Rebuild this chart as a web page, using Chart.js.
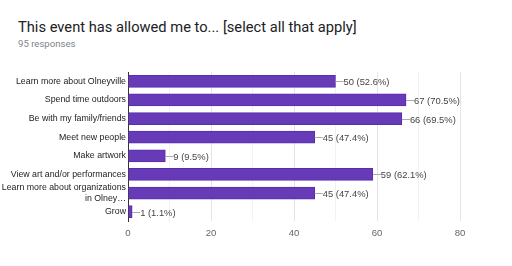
<!DOCTYPE html>
<html>
<head>
<meta charset="utf-8">
<script src="https://cdn.jsdelivr.net/npm/chart.js@4"></script>
<style>
  html, body { margin: 0; padding: 0; background: #fff; }
  body { width: 512px; height: 266px; position: relative; overflow: hidden; font-family: Roboto, Arial, sans-serif; }
  #title { position: absolute; left: 18px; top: 18px; font-size: 14.7px; color: #202124; white-space: nowrap; }
  #sub { position: absolute; left: 18px; top: 38px; font-size: 9.6px; color: #80868b; }
  #wrap { position: absolute; left: 0; top: 0; width: 512px; height: 266px; }
</style>
</head>
<body>
<div id="title">This event has allowed me to... [select all that apply]</div>
<div id="sub">95 responses</div>
<div id="wrap"><canvas id="chart"></canvas></div>
<script>
const categories = [
    'Learn more about Olneyville',
    'Spend time outdoors',
    'Be with my family/friends',
    'Meet new people',
    'Make artwork',
    'View art and/or performances',
    ['Learn more about organizations', 'in Olney\u2026'],
    'Grow'
];
const counts = [50, 67, 66, 45, 9, 59, 45, 1];
const percents = ['52.6%', '70.5%', '69.5%', '47.4%', '9.5%', '62.1%', '47.4%', '1.1%'];
const xTicks = [0, 20, 40, 60, 80];

const labelFont = 'Arial, "Liberation Sans", sans-serif';

// Leader lines + value labels at the end of each bar
const valueLabels = {
    id: 'valueLabels',
    afterDatasetsDraw(chart) {
        const ctx = chart.ctx;
        const meta = chart.getDatasetMeta(0);
        ctx.save();
        ctx.font = '9.4px ' + labelFont;
        ctx.textBaseline = 'middle';
        meta.data.forEach((bar, i) => {
            const x = bar.x;
            const y = Math.round(bar.y);
            ctx.strokeStyle = '#aaa';
            ctx.lineWidth = 1;
            ctx.beginPath();
            ctx.moveTo(x, y + 0.5);
            ctx.lineTo(x + 8, y + 0.5);
            ctx.stroke();
            ctx.fillStyle = '#444';
            ctx.fillText(counts[i] + ' (' + percents[i] + ')', x + 8, y + 1);
        });
        ctx.restore();
    }
};

const ctx = document.getElementById('chart').getContext('2d');
const chart = new Chart(ctx, {
    type: 'bar',
    data: {
        labels: categories,
        datasets: [{
            data: counts,
            backgroundColor: '#673ab7',
            borderColor: '#5a2dae',
            borderWidth: 1,
            barThickness: 12
        }]
    },
    plugins: [valueLabels],
    options: {
        indexAxis: 'y',
        responsive: true,
        maintainAspectRatio: false,
        animation: false,
        layout: { padding: { top: 72, right: 52, left: 0, bottom: 0 } },
        plugins: {
            legend: { display: false },
            tooltip: { enabled: false }
        },
        scales: {
            x: {
                min: 0,
                max: 80,
                ticks: {
                    stepSize: 10,
                    autoSkip: false,
                    maxRotation: 0,
                    color: '#666',
                    font: { family: labelFont, size: 9.6 },
                    padding: 7,
                    callback: function(value) {
                        return xTicks.includes(value) ? value : '';
                    }
                },
                grid: {
                    drawTicks: false,
                    color: function(c) {
                        return c.tick && c.tick.value % 20 === 0 ? '#e4e4e4' : '#f2f2f2';
                    }
                },
                border: { display: false },
                afterFit: function(scale) { scale.height = 45; }
            },
            y: {
                ticks: {
                    autoSkip: false,
                    color: '#222',
                    font: { family: labelFont, size: 8.8, lineHeight: 1.35 },
                    padding: 2
                },
                grid: { display: false, drawTicks: false },
                border: { display: true, color: '#333', width: 1 },
                afterFit: function(scale) { scale.width = 128; }
            }
        }
    }
});
</script>
</body>
</html>
